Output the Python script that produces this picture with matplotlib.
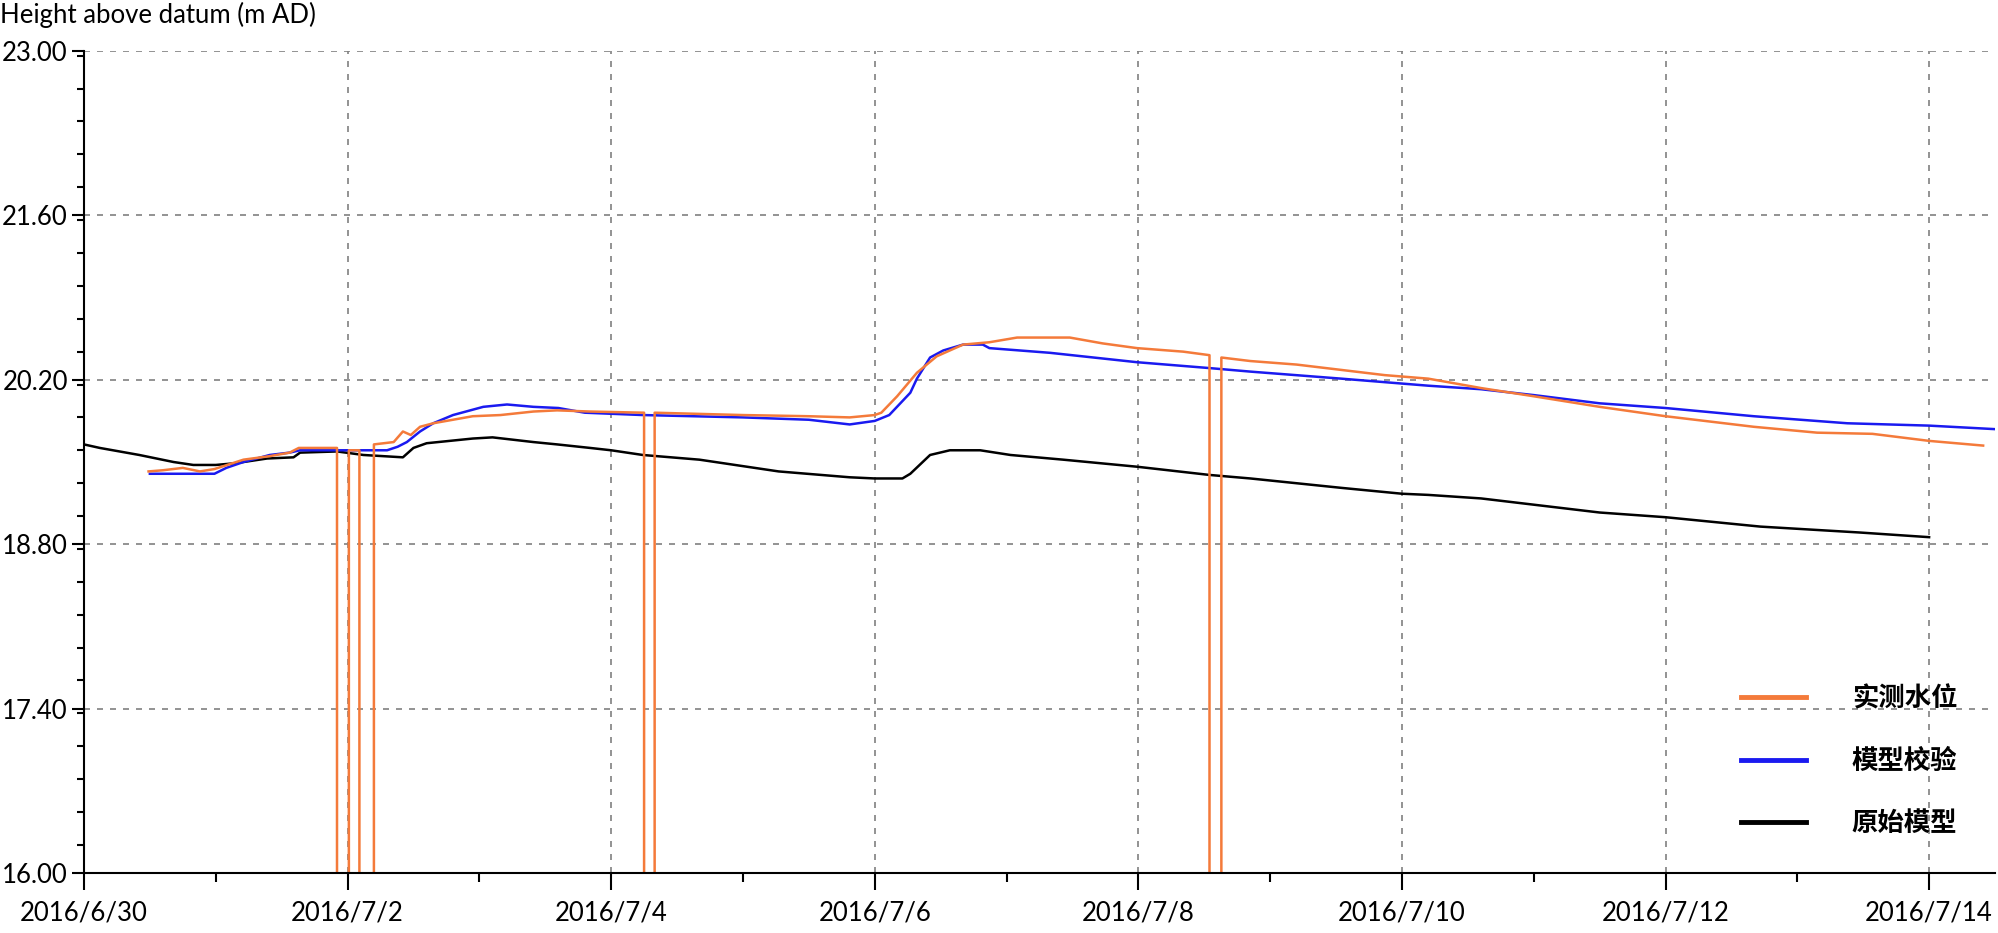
import matplotlib
matplotlib.use("Agg")
import matplotlib.pyplot as plt
from matplotlib.ticker import MultipleLocator

# 数据：横轴为距 2016/6/30 00:00 的天数
black_t = [0, 0.12, 0.42, 0.68, 0.83, 1.0, 1.15, 1.39, 1.59, 1.64, 1.92, 2.12, 2.42, 2.5, 2.6,
           2.95, 3.1, 3.41, 3.59, 3.84, 4.0, 4.24, 4.67, 5.27, 5.81, 6.0, 6.21, 6.27, 6.42,
           6.57, 6.80, 7.03, 7.43, 7.99, 8.54, 8.85, 9.54, 10.0, 10.2, 10.6, 11.5, 12.0,
           12.72, 13.47, 14.0]
black_v = [19.65, 19.62, 19.56, 19.50, 19.475, 19.475, 19.49, 19.53, 19.54, 19.58, 19.59, 19.56,
           19.54, 19.62, 19.66, 19.70, 19.71, 19.67, 19.65, 19.62, 19.60, 19.56, 19.52, 19.42,
           19.37, 19.36, 19.36, 19.40, 19.56, 19.60, 19.60, 19.56, 19.52, 19.46, 19.39, 19.36,
           19.28, 19.23, 19.22, 19.19, 19.07, 19.03, 18.95, 18.90, 18.86]

blue_t = [0.5, 0.99, 1.08, 1.21, 1.41, 1.56, 1.64, 2.30, 2.38, 2.45, 2.55, 2.65, 2.80, 3.03,
          3.21, 3.41, 3.6, 3.8, 4.24, 5.0, 5.5, 5.81, 6.0, 6.11, 6.27, 6.32, 6.42, 6.52, 6.67,
          6.82, 6.87, 7.33, 7.99, 8.54, 8.85, 9.54, 10.2, 10.6, 11.0, 11.5, 12.0, 12.67, 13.38,
          14.0, 14.5]
blue_v = [19.40, 19.40, 19.45, 19.50, 19.56, 19.58, 19.60, 19.60, 19.63, 19.67, 19.76, 19.83,
          19.90, 19.97, 19.99, 19.97, 19.96, 19.92, 19.90, 19.88, 19.86, 19.82, 19.85, 19.90,
          20.09, 20.21, 20.39, 20.45, 20.50, 20.50, 20.47, 20.43, 20.35, 20.30, 20.27, 20.21,
          20.15, 20.12, 20.07, 20.00, 19.96, 19.89, 19.83, 19.81, 19.78]

# 实测水位，缺测处记为 0（掉到坐标轴以下）
orange_t = [0.49, 0.6, 0.75, 0.88, 0.99, 1.1, 1.21, 1.41, 1.56, 1.63, 1.92, 1.92, 2.01, 2.01,
            2.09, 2.09, 2.20, 2.20, 2.35, 2.42, 2.48, 2.55, 2.65, 2.80, 2.95, 3.16, 3.41, 3.59,
            3.84, 4.25, 4.25, 4.33, 4.33, 5.0, 5.5, 5.81, 6.0, 6.05, 6.17, 6.32, 6.47, 6.67,
            6.87, 7.08, 7.48, 7.73, 7.99, 8.34, 8.54, 8.54, 8.63, 8.63, 8.85, 9.2, 9.87, 10.2,
            10.6, 11.0, 11.5, 12.0, 12.67, 13.15, 13.57, 14.0, 14.41]
orange_v = [19.42, 19.43, 19.45, 19.42, 19.44, 19.48, 19.52, 19.55, 19.58, 19.62, 19.62, 0, 0,
            19.60, 19.60, 0, 0, 19.65, 19.67, 19.76, 19.73, 19.80, 19.83, 19.86, 19.89, 19.90,
            19.93, 19.94, 19.93, 19.92, 0, 0, 19.92, 19.90, 19.89, 19.88, 19.90, 19.92, 20.06,
            20.26, 20.40, 20.50, 20.52, 20.56, 20.56, 20.51, 20.47, 20.44, 20.41, 0, 0, 20.39,
            20.36, 20.33, 20.24, 20.21, 20.13, 20.06, 19.97, 19.89, 19.80, 19.75, 19.74, 19.68,
            19.64]

xticks = [0, 2, 4, 6, 8, 10, 12, 14]
xlabels = ["2016/6/30", "2016/7/2", "2016/7/4", "2016/7/6", "2016/7/8", "2016/7/10",
           "2016/7/12", "2016/7/14"]
yticks = [16.0, 17.4, 18.8, 20.2, 21.6, 23.0]

plt.rcParams['font.family'] = ['Lato', 'Noto Sans CJK SC', 'DejaVu Sans']

fig = plt.figure(figsize=(19.99, 9.33), dpi=100)
ax = fig.add_axes([0.042, 0.0643, 0.956, 0.881])

ax.plot(black_t, black_v, color='black', lw=1.8, label='原始模型')
ax.plot(blue_t, blue_v, color='#1a1af0', lw=1.8, label='模型校验')
ax.plot(orange_t, orange_v, color='#f47a3a', lw=1.8, label='实测水位')

ax.set_xlim(0, 14.5)
ax.set_ylim(16, 23)
ax.set_xticks(xticks)
ax.set_xticklabels(xlabels)
ax.xaxis.set_minor_locator(MultipleLocator(1))
ax.set_yticks(yticks)
ax.set_yticklabels(["%.2f" % v for v in yticks])
ax.yaxis.set_minor_locator(MultipleLocator(0.28))

for s in ['top', 'right']:
    ax.spines[s].set_visible(False)
for s in ['left', 'bottom']:
    ax.spines[s].set_linewidth(1.5)

ax.tick_params(axis='both', which='major', labelsize=18.5, width=1.5, color='black')
ax.tick_params(axis='x', which='major', length=12, pad=8)
ax.tick_params(axis='x', which='minor', length=6.5, width=1.5)
ax.tick_params(axis='y', which='major', length=8.6, pad=3)
ax.tick_params(axis='y', which='minor', length=5, width=1.5)

ax.grid(True, which='major', color='#808080', lw=1.2, linestyle=(0, (3.6, 4.2)))

fig.text(0.0, 0.984, 'Height above datum (m AD)', fontsize=18.5, ha='left', va='center')

h, l = ax.get_legend_handles_labels()
order = [2, 1, 0]
leg = ax.legend([h[i] for i in order], [l[i] for i in order], loc='lower right',
                bbox_to_anchor=(0.991, 0.077), bbox_transform=fig.transFigure,
                frameon=False, handlelength=2.45, handletextpad=1.75,
                labelspacing=1.35, prop={'family': ['Noto Sans CJK SC'], 'size': 19,
                                         'weight': 'bold'})
for line in leg.get_lines():
    line.set_linewidth(3.5)

fig.savefig('out.png', dpi=100)
